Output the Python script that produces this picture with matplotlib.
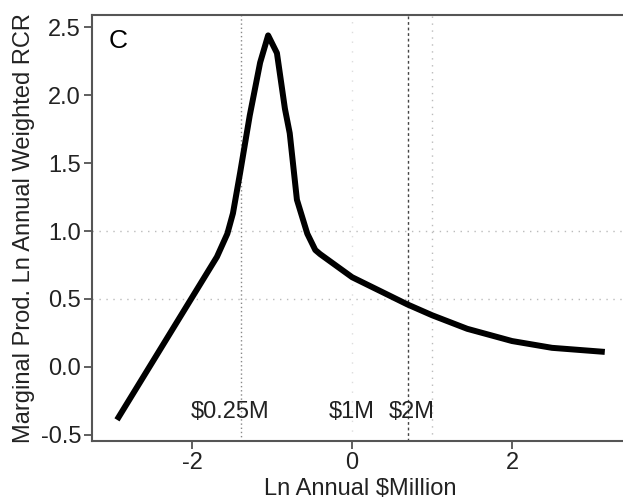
import numpy as np
import matplotlib
matplotlib.use("Agg")
import matplotlib.pyplot as plt

plt.rcParams['font.family'] = ['Liberation Sans', 'DejaVu Sans']
plt.rcParams['axes.unicode_minus'] = False

# curve (ln annual $million, marginal product)
x = [-2.94, -1.69, -1.56, -1.49, -1.40, -1.28, -1.15, -1.05, -0.94, -0.84,
     -0.78, -0.69, -0.56, -0.46, -0.40, 0.0, 0.69, 1.0, 1.44, 2.0, 2.5, 3.16]
y = [-0.39, 0.81, 0.98, 1.13, 1.43, 1.85, 2.24, 2.44, 2.31, 1.90,
     1.72, 1.23, 0.98, 0.86, 0.83, 0.66, 0.46, 0.38, 0.28, 0.19, 0.14, 0.11]

hlines = [1.0, 0.5]
money = [0.25, 1, 2]
money_labels = ['$0.25M', '$1M', '$2M']
label_x = [-1.53, 0.0, 0.75]

fig = plt.figure(figsize=(6.23, 5.01), dpi=100)
ax = fig.add_axes([0.148, 0.12, 0.86, 0.85])

for h in hlines:
    ax.axhline(h, color='#bbbbbb', ls=(0, (1, 4)), lw=1)
ax.axvline(np.log(0.25), color='#888888', ls=(0, (1, 2)), lw=1)
ax.axvline(0, color='#dddddd', ls=(0, (1, 6)), lw=1)
ax.axvline(np.log(2), color='#444444', ls=(0, (2, 2)), lw=1)
ax.axvline(1.0, color='#bbbbbb', ls=(0, (1, 4)), lw=1)

ax.plot(x, y, color='black', lw=4.3, solid_capstyle='butt')

for lx, lab in zip(label_x, money_labels):
    ax.text(lx, -0.33, lab, ha='center', va='center', fontsize=17, color='#222222')
ax.text(-2.93, 2.40, 'C', ha='center', va='center', fontsize=19)

ax.set_xlim(-3.25, 3.45)
ax.set_ylim(-0.545, 2.59)
ax.set_xticks([-2, 0, 2])
ax.set_yticks([-0.5, 0.0, 0.5, 1.0, 1.5, 2.0, 2.5])
ax.set_yticklabels(['-0.5', '0.0', '0.5', '1.0', '1.5', '2.0', '2.5'])
ax.tick_params(labelsize=17, length=6, width=1.2, color='#444444', labelcolor='#222222', pad=2)
for s in ['left', 'bottom', 'top']:
    ax.spines[s].set_color('#555555')
    ax.spines[s].set_linewidth(1.5)
ax.spines['right'].set_visible(False)

ax.set_xlabel('Ln Annual $Million', fontsize=17, color='#222222', labelpad=3)
ax.set_ylabel('Marginal Prod. Ln Annual Weighted RCR', fontsize=17, color='#222222', labelpad=4)

fig.savefig('out.png', dpi=100)
